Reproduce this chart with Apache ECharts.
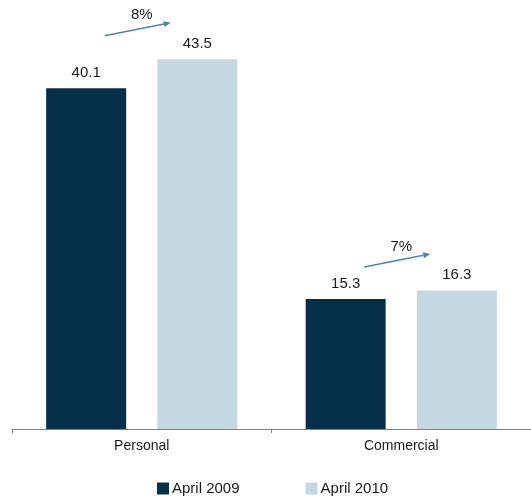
<!DOCTYPE html>
<html lang="en">
<head>
    <meta charset="UTF-8">
    <title>Personal vs Commercial</title>
    <style>
        html, body { margin: 0; padding: 0; background: #fff; }
        #chart { width: 531px; height: 498px; }
    </style>
</head>
<body>
    <div id="chart"></div>
    <script src="https://cdn.jsdelivr.net/npm/echarts@6/dist/echarts.min.js"></script>
    <script type="text/javascript">
        const categories = ['Personal', 'Commercial'];
        const april2009 = [40.1, 15.3];
        const april2010 = [43.5, 16.3];
        const growth = ['8%', '7%'];

        const chart = echarts.init(document.getElementById('chart'));
        const font = 'Liberation Sans, Arial, sans-serif';
        const arrowColor = '#4a86a8';

        // growth arrows drawn above each pair of bars
        function renderArrow(params, api) {
            const idx = api.value(0);
            const top = Math.max(april2009[idx], april2010[idx]);
            const p = api.coord([idx, top]);
            const cx = p[0] - 4;
            const cy = p[1] - 30;
            const x1 = cx - 33, y1 = cy + 6.5;
            const x2 = cx + 33, y2 = cy - 6.5;
            const ang = Math.atan2(y2 - y1, x2 - x1);
            const len = 7, w = 3;
            const bx = x2 - len * Math.cos(ang), by = y2 - len * Math.sin(ang);
            const nx = -Math.sin(ang) * w, ny = Math.cos(ang) * w;
            return {
                type: 'group',
                children: [
                    {
                        type: 'line',
                        shape: { x1: x1, y1: y1, x2: bx, y2: by },
                        style: { stroke: arrowColor, lineWidth: 1.5 }
                    },
                    {
                        type: 'polygon',
                        shape: { points: [[x2, y2], [bx + nx, by + ny], [bx - nx, by - ny]] },
                        style: { fill: arrowColor }
                    },
                    {
                        type: 'text',
                        style: {
                            text: growth[idx],
                            x: cx + 4,
                            y: cy - 14,
                            align: 'center',
                            verticalAlign: 'middle',
                            fill: '#1a1a1a',
                            font: '15px ' + font
                        }
                    }
                ]
            };
        }

        chart.setOption({
            animation: false,
            textStyle: { fontFamily: font },
            grid: { left: 12, top: 4, width: 522, bottom: 69, containLabel: false },
            legend: {
                data: ['April 2009', 'April 2010'],
                left: 152,
                top: 476,
                itemWidth: 12,
                itemHeight: 12,
                itemGap: 66,
                icon: 'rect',
                textStyle: { fontSize: 15, color: '#1a1a1a', padding: [0, 0, 0, -2] }
            },
            xAxis: {
                type: 'category',
                data: categories,
                axisLine: { lineStyle: { color: '#808080', width: 1 } },
                axisTick: { show: true, length: 4, lineStyle: { color: '#808080' } },
                axisLabel: { fontSize: 14, color: '#1a1a1a', margin: 10 }
            },
            yAxis: {
                type: 'value',
                min: 0,
                max: 50,
                show: false,
                splitLine: { show: false }
            },
            series: [
                {
                    name: 'April 2009',
                    type: 'bar',
                    data: april2009,
                    barWidth: 80,
                    barGap: '39%',
                    itemStyle: { color: '#06304a' },
                    label: {
                        show: true,
                        position: 'top',
                        distance: 8,
                        fontSize: 15,
                        color: '#1a1a1a'
                    }
                },
                {
                    name: 'April 2010',
                    type: 'bar',
                    data: april2010,
                    barWidth: 80,
                    itemStyle: { color: '#c5d8e1' },
                    label: {
                        show: true,
                        position: 'top',
                        distance: 8,
                        fontSize: 15,
                        color: '#1a1a1a'
                    }
                },
                {
                    type: 'custom',
                    renderItem: renderArrow,
                    data: categories.map((c, i) => [i, 0]),
                    silent: true,
                    z: 5
                }
            ]
        });
    </script>
</body>
</html>
